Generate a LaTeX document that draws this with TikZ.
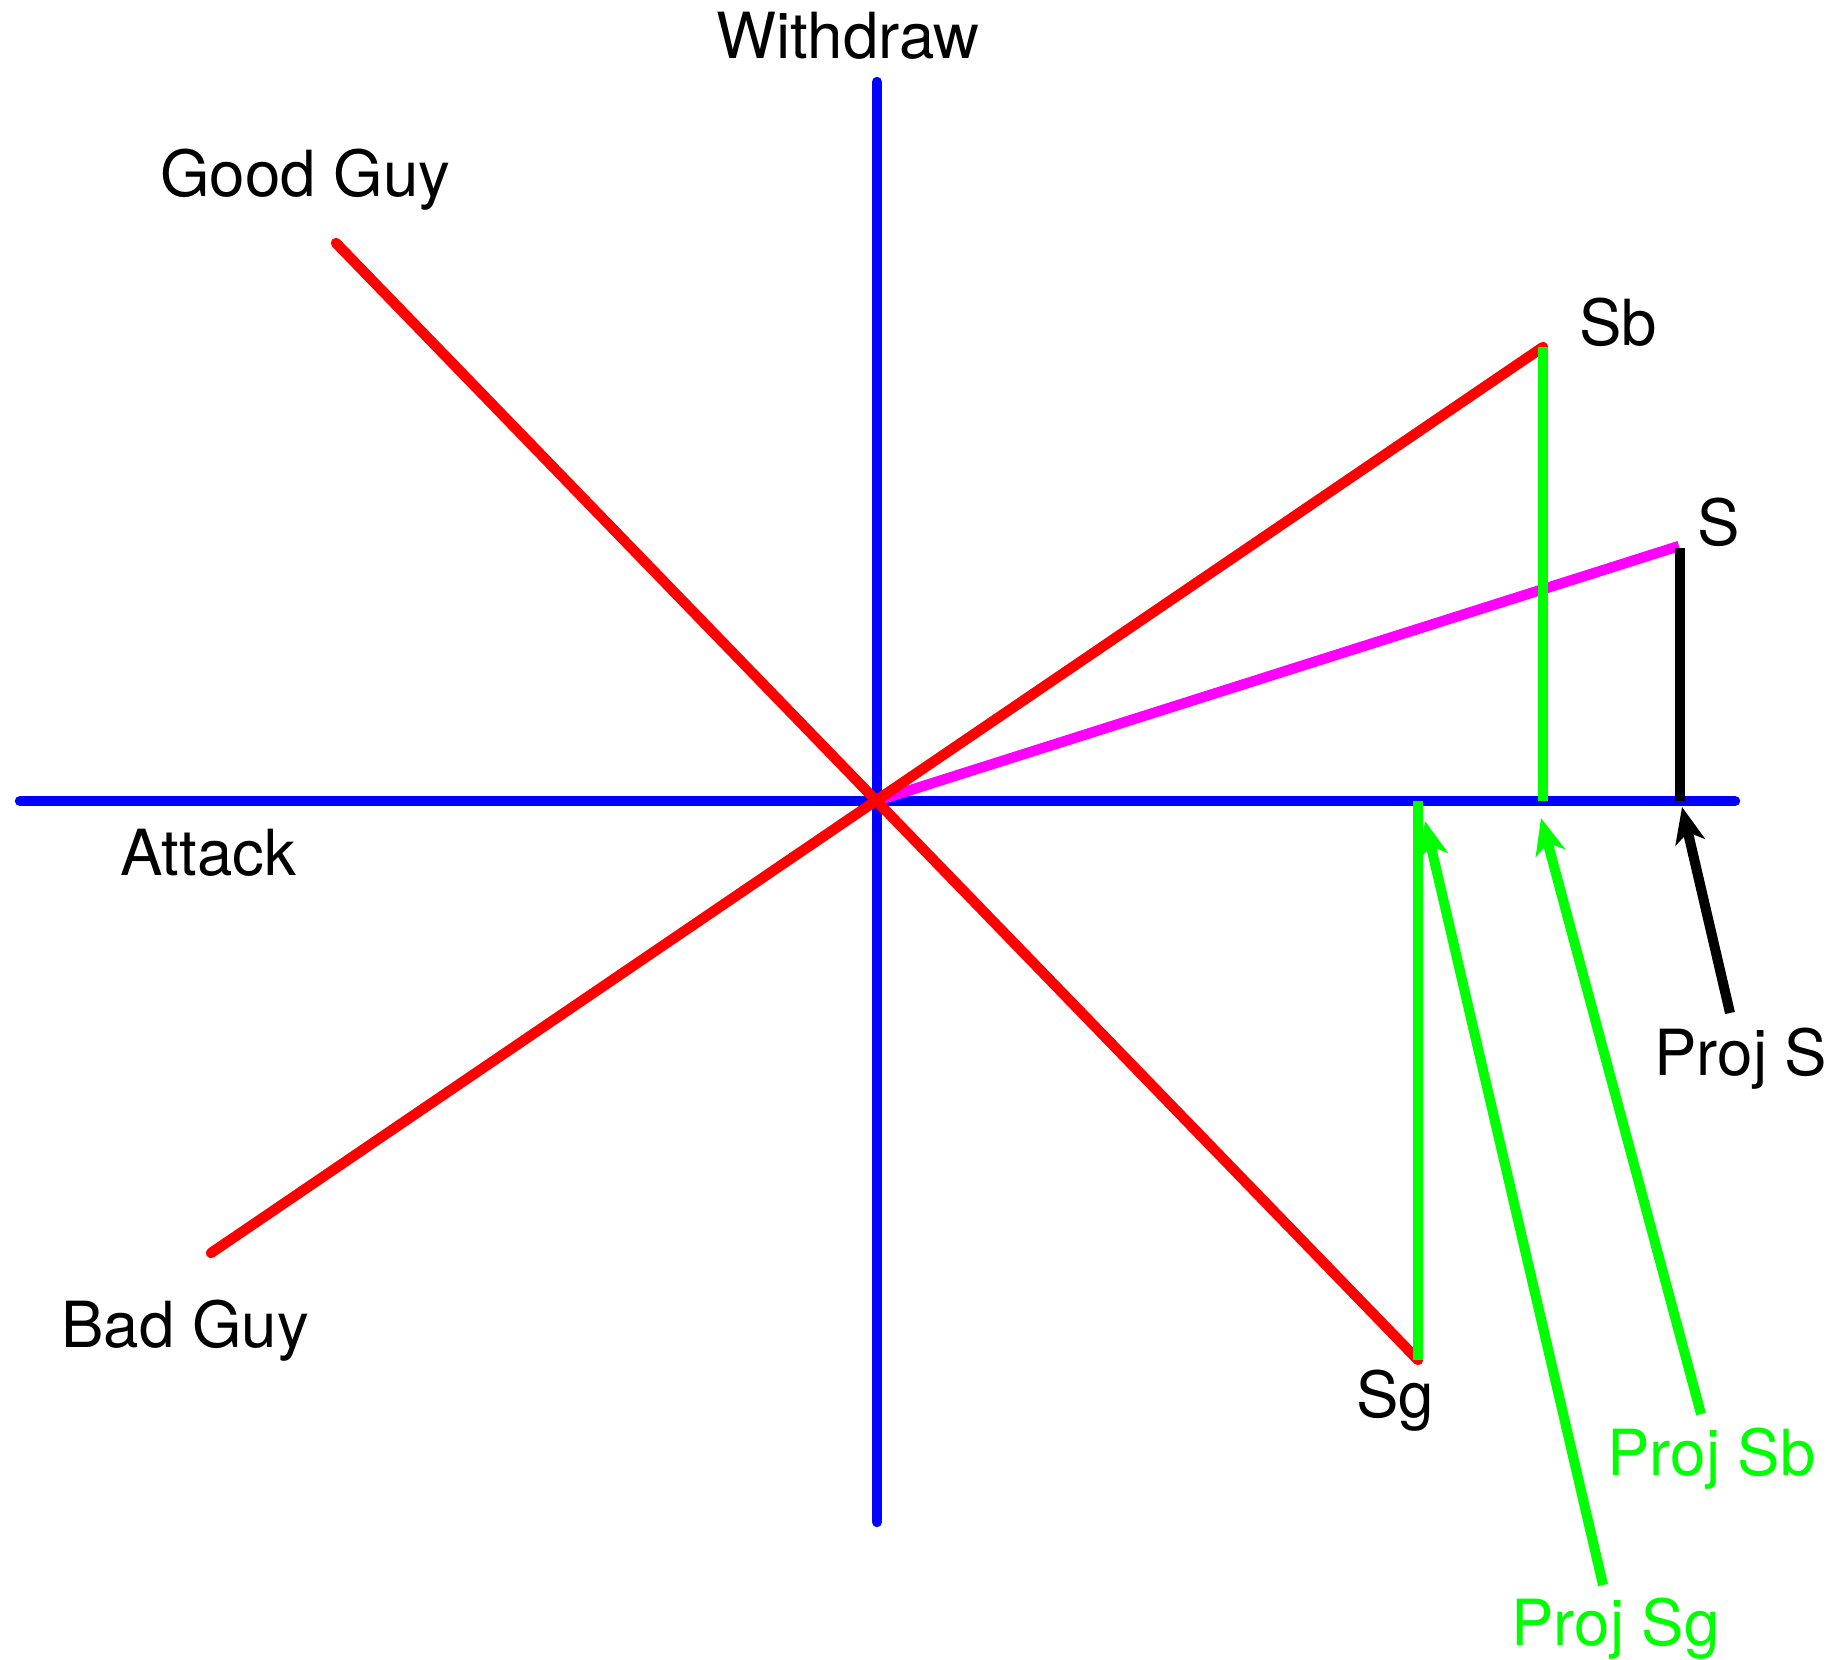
\documentclass[tikz,border=0pt]{standalone}
\usepackage{fontspec}
\setmainfont{TeX Gyre Heros}
\usetikzlibrary{arrows.meta, calc, positioning}
\definecolor{myblue}{RGB}{0, 0, 255}
\definecolor{myred}{RGB}{255, 0, 0}
\definecolor{mygreen}{RGB}{0, 255, 0}
\definecolor{mymagenta}{RGB}{255, 0, 255}

\begin{document}
\begin{tikzpicture}[x=0.5pt, y=-0.5pt, font=\fontsize{31.8}{38}\selectfont,
    axis/.style={myblue, line width=5.2pt, line cap=round},
    guy/.style={myred, line width=5.2pt, line cap=round},
    proj/.style={line width=5.2pt},
    pointer/.style={line width=5pt, -{Stealth[length=18pt, width=15pt, inset=5pt]}},
    lbl/.style={anchor=base west, inner sep=0pt}]
  \useasboundingbox (0,0) rectangle (1840,1659);
  % Points
  \coordinate (O) at (876,801);
  \coordinate (axL) at (20,801);
  \coordinate (axR) at (1735,801);
  \coordinate (axT) at (877,82);
  \coordinate (axB) at (877,1522);
  \coordinate (good) at (336,243);
  \coordinate (bad) at (211,1253);
  \coordinate (Sb) at (1543,347);
  \coordinate (Sg) at (1418,1360);
  \coordinate (S) at (1679,546);
  \coordinate (Stop) at (1680,548);
  \coordinate (pSb) at (1543,801);
  \coordinate (pSg) at (1418,801);
  \coordinate (pS) at (1680,801);
  % Axes
  \draw[axis] (axL) -- (axR);
  \draw[axis] (axT) -- (axB);
  % Guy lines
  \draw[mymagenta, line width=5.2pt] (O) -- (S);
  \draw[guy] (good) -- (Sg);
  \draw[guy] (bad) -- (Sb);
  % Projections
  \draw[proj, mygreen] (Sb) -- (pSb);
  \draw[proj, mygreen] (Sg) -- (pSg);
  \draw[proj, black] (Stop) -- (pS);
  % Labels
  \node[lbl] (withdraw) at (716,59) {Withdraw};
  \node[lbl] (goodlbl) at (160,196) {Good Guy};
  \node[lbl] (attack) at (120,875) {Attack};
  \node[lbl] (badlbl) at (61,1347) {Bad Guy};
  \node[lbl] (sblbl) at (1579,345) {Sb};
  \node[lbl] (slbl) at (1697,545) {S};
  \node[lbl] (sglbl) at (1356,1417) {Sg};
  \node[lbl] (projs) at (1654,1075) {Proj S};
  \node[lbl, mygreen] (projsb) at (1607,1475) {Proj Sb};
  \node[lbl, mygreen] (projsg) at (1511,1645) {Proj Sg};
  % Pointers
  \coordinate (tS) at (1730,1013);
  \coordinate (tSb) at (1701,1414);
  \coordinate (tSg) at (1603,1585);
  \coordinate (hS) at (1682,807);
  \coordinate (hSb) at (1541,818);
  \coordinate (hSg) at (1425,821);
  \draw[pointer, black] (tS) -- (hS);
  \draw[pointer, mygreen] (tSb) -- (hSb);
  \draw[pointer, mygreen] (tSg) -- (hSg);
\end{tikzpicture}
\end{document}
